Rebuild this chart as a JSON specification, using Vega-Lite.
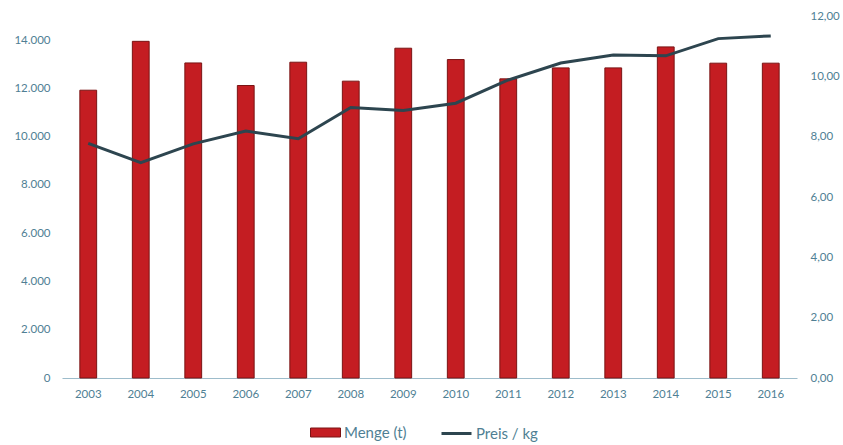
{
  "$schema": "https://vega.github.io/schema/vega-lite/v6.json",
  "width": 735,
  "height": 362,
  "autosize": "none",
  "padding": {"left": 62, "top": 16, "right": 46, "bottom": 67},
  "background": "white",
  "data": {
    "values": [
      {"Jahr": "2003", "Menge": 11925, "Preis": 7.78},
      {"Jahr": "2004", "Menge": 13950, "Preis": 7.14},
      {"Jahr": "2005", "Menge": 13055, "Preis": 7.76},
      {"Jahr": "2006", "Menge": 12120, "Preis": 8.19},
      {"Jahr": "2007", "Menge": 13085, "Preis": 7.93},
      {"Jahr": "2008", "Menge": 12300, "Preis": 8.97},
      {"Jahr": "2009", "Menge": 13665, "Preis": 8.87},
      {"Jahr": "2010", "Menge": 13195, "Preis": 9.11},
      {"Jahr": "2011", "Menge": 12395, "Preis": 9.88},
      {"Jahr": "2012", "Menge": 12850, "Preis": 10.44},
      {"Jahr": "2013", "Menge": 12850, "Preis": 10.71},
      {"Jahr": "2014", "Menge": 13720, "Preis": 10.68},
      {"Jahr": "2015", "Menge": 13045, "Preis": 11.25},
      {"Jahr": "2016", "Menge": 13045, "Preis": 11.34}
    ]
  },
  "encoding": {
    "x": {
      "field": "Jahr",
      "type": "ordinal",
      "scale": {"paddingInner": 0.68, "paddingOuter": 0.34},
      "axis": {
        "title": null,
        "labelAngle": 0,
        "ticks": false,
        "domain": true,
        "domainColor": "#9dbccb",
        "domainWidth": 1,
        "labelPadding": 10,
        "labelFontSize": 11.5
      }
    }
  },
  "layer": [
    {
      "mark": {"type": "bar", "stroke": "#7a1414", "strokeWidth": 1},
      "encoding": {
        "y": {
          "field": "Menge",
          "type": "quantitative",
          "scale": {"domain": [0, 15000], "nice": false},
          "axis": {
            "title": null,
            "orient": "left",
            "values": [0, 2000, 4000, 6000, 8000, 10000, 12000, 14000],
            "format": ",.0f",
            "grid": false,
            "ticks": false,
            "domain": false,
            "labelPadding": 12,
            "labelFontSize": 11.5
          }
        },
        "fill": {
          "datum": "Menge (t)",
          "type": "nominal",
          "scale": {"range": ["#c41d22"]},
          "legend": {
            "title": null,
            "orient": "none",
            "legendX": 248,
            "legendY": 401,
            "symbolType": "M-1,-0.3H1V0.3H-1Z",
            "symbolSize": 900,
            "symbolStrokeColor": "#7a1414",
            "symbolStrokeWidth": 1,
            "labelOffset": 3
          }
        }
      }
    },
    {
      "mark": {"type": "line", "strokeWidth": 3},
      "encoding": {
        "y": {
          "field": "Preis",
          "type": "quantitative",
          "scale": {"domain": [0, 12], "nice": false},
          "axis": {
            "title": null,
            "orient": "right",
            "values": [0, 2, 4, 6, 8, 10, 12],
            "format": ",.2f",
            "grid": false,
            "ticks": false,
            "domain": false,
            "labelPadding": 13,
            "labelFontSize": 11.5
          }
        },
        "stroke": {
          "datum": "Preis / kg",
          "type": "nominal",
          "scale": {"range": ["#2d454f"]},
          "legend": {
            "title": null,
            "orient": "none",
            "legendX": 378,
            "legendY": 401,
            "symbolType": "stroke",
            "symbolSize": 900,
            "symbolStrokeWidth": 3,
            "labelOffset": 3
          }
        }
      }
    }
  ],
  "resolve": {"scale": {"y": "independent", "fill": "independent", "stroke": "independent"}},
  "config": {
    "locale": {
      "number": {"decimal": ",", "thousands": ".", "grouping": [3], "currency": ["", " €"]}
    },
    "font": "Lato",
    "view": {"stroke": null},
    "axis": {"labelColor": "#4f7f94", "labelFont": "Lato"},
    "legend": {"labelColor": "#4f7f94", "labelFontSize": 15, "labelFont": "Lato"}
  }
}
